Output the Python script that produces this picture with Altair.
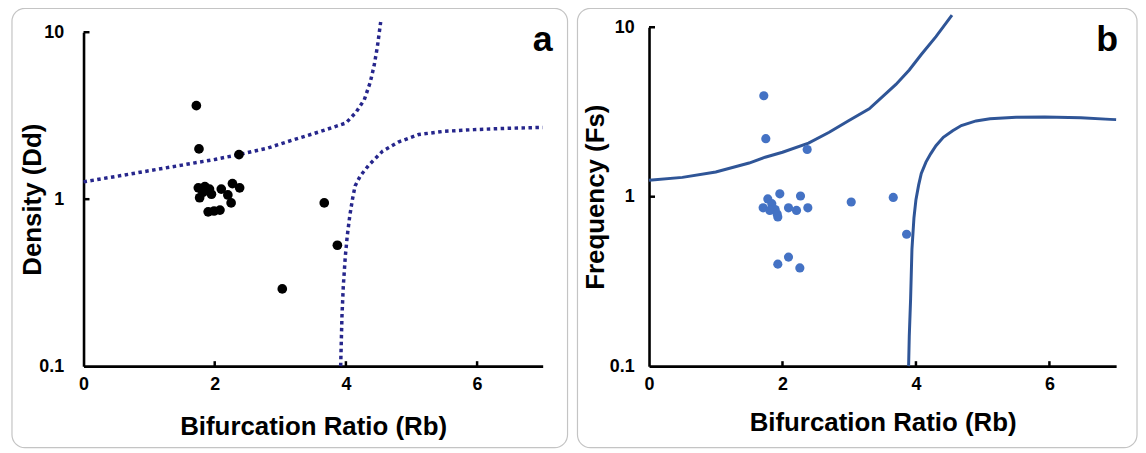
import altair as alt
import pandas as pd

# ---------------- Panel a : Density vs Bifurcation ratio ----------------
a_rb = [1.72, 1.76, 2.37, 1.75, 1.85, 1.92, 1.82, 1.77, 1.95, 2.10, 2.20, 2.27, 2.38, 2.25, 1.90, 2.08, 1.99, 3.67, 3.87, 3.03]
a_dd = [3.63, 2.00, 1.85, 1.17, 1.19, 1.15, 1.10, 1.02, 1.07, 1.15, 1.06, 1.24, 1.17, 0.95, 0.84, 0.86, 0.85, 0.95, 0.53, 0.29]

a_up_x = [0.0, 0.5, 1.0, 1.5, 2.0, 2.37, 2.8, 3.17, 3.62, 4.0, 4.15, 4.28, 4.37, 4.43, 4.48, 4.53]
a_up_y = [1.27, 1.37, 1.48, 1.60, 1.73, 1.85, 2.02, 2.25, 2.55, 2.86, 3.3, 3.94, 5.0, 6.3, 8.2, 11.5]
a_lo_x = [3.92, 3.94, 3.96, 3.99, 4.02, 4.06, 4.10, 4.14, 4.22, 4.35, 4.56, 4.8, 5.11, 5.5, 5.95, 6.5, 7.0]
a_lo_y = [0.1, 0.2, 0.3, 0.45, 0.6, 0.8, 1.0, 1.2, 1.38, 1.6, 1.94, 2.2, 2.44, 2.55, 2.61, 2.66, 2.69]

# ---------------- Panel b : Frequency vs Bifurcation ratio ----------------
b_rb = [1.72, 1.75, 2.37, 1.96, 2.27, 1.78, 1.84, 1.71, 1.89, 1.81, 1.93, 1.92, 2.09, 2.21, 2.38, 3.03, 3.66, 3.86, 1.93, 2.09, 2.26]
b_fs = [3.94, 2.20, 1.90, 1.04, 1.01, 0.97, 0.91, 0.86, 0.84, 0.83, 0.76, 0.79, 0.86, 0.83, 0.86, 0.93, 0.99, 0.60, 0.40, 0.44, 0.38]

b_up_x = [0.0, 0.5, 1.0, 1.5, 1.74, 2.0, 2.39, 2.7, 2.99, 3.3, 3.7, 3.9, 4.08, 4.3, 4.54]
b_up_y = [1.25, 1.30, 1.40, 1.58, 1.71, 1.83, 2.07, 2.4, 2.81, 3.3, 4.6, 5.6, 6.9, 8.8, 11.8]
b_lo_x = [3.89, 3.90, 3.92, 3.94, 3.97, 4.0, 4.04, 4.08, 4.15, 4.22, 4.3, 4.41, 4.55, 4.68, 4.9, 5.11, 5.5, 5.93, 6.47, 6.91, 7.0]
b_lo_y = [0.1, 0.15, 0.25, 0.49, 0.75, 0.96, 1.17, 1.37, 1.6, 1.79, 2.0, 2.24, 2.45, 2.63, 2.8, 2.88, 2.94, 2.95, 2.92, 2.86, 2.85]

x_labels = [0, 2, 4, 6]
y_labels = [0.1, 1, 10]
x_minor_ticks = [2, 4, 6]
y_minor_ticks = [1, 10]

FONT = "Liberation Sans"
H = 341  # common plot height (both panels share the same bottom line)


def panel(px, py, upx, upy, lox, loy, W, ytop, ytitle, letter, pcolor, psize,
          lcolor, lwidth, dash, ylabpad, ytitlex, xtitley, letter_dx, box):
    pts = pd.DataFrame({"x": px, "y": py})
    curves = pd.DataFrame({
        "x": upx + lox,
        "y": upy + loy,
        "curve": ["upper"] * len(upx) + ["lower"] * len(lox),
        "order": list(range(len(upx))) + list(range(len(lox))),
    })
    xs = alt.Scale(domain=[0, 7], nice=False, zero=False)
    ys = alt.Scale(type="log", domain=[0.1, 10], nice=False, range=[H, ytop])

    main_x = alt.Axis(values=x_labels, ticks=False, grid=False, title="Bifurcation Ratio (Rb)",
                      labelPadding=10, titleY=xtitley, titleBaseline="middle",
                      orient="bottom", labelFlush=False, labelFontSize=18,
                      labelFontWeight="bold", titleFontSize=26, titleFontWeight="bold")
    main_y = alt.Axis(values=y_labels, ticks=False, grid=False, title=ytitle, format="~g",
                      labelPadding=ylabpad, titleX=ytitlex, titleBaseline="middle",
                      orient="left", labelBaseline="middle", labelFontSize=18,
                      labelFontWeight="bold", titleFontSize=26, titleFontWeight="bold")

    frame = alt.Chart(pd.DataFrame({"k": [0]})).mark_rect(
        filled=False, stroke="#c4c4c4", strokeWidth=1.2, cornerRadius=13
    ).encode(x=alt.value(box[0]), x2=alt.value(W + box[1]),
             y=alt.value(box[2]), y2=alt.value(H + box[3]))

    dots = alt.Chart(pts).mark_circle(size=psize, color=pcolor, opacity=1).encode(
        x=alt.X("x:Q", scale=xs, axis=main_x),
        y=alt.Y("y:Q", scale=ys, axis=main_y),
    )

    line_kw = dict(color=lcolor, strokeWidth=lwidth, clip=False, strokeCap="butt")
    if dash:
        line_kw["strokeDash"] = dash
    lines = alt.Chart(curves).mark_line(**line_kw).encode(
        x=alt.X("x:Q", scale=xs, axis=main_x),
        y=alt.Y("y:Q", scale=ys, axis=main_y),
        detail="curve:N",
        order="order:Q",
    )

    xt = alt.Chart(pd.DataFrame({"v": x_minor_ticks})).mark_rule(
        color="black", strokeWidth=2.5
    ).encode(x=alt.X("v:Q", scale=xs, axis=main_x), y=alt.value(H), y2=alt.value(H - 5))
    yt = alt.Chart(pd.DataFrame({"v": y_minor_ticks})).mark_rule(
        color="black", strokeWidth=2.5
    ).encode(y=alt.Y("v:Q", scale=ys, axis=main_y), x=alt.value(0), x2=alt.value(6))

    return alt.layer(frame, lines, dots, xt, yt).properties(
        width=W, height=H,
        title=alt.TitleParams(letter, anchor="end", frame="group", fontSize=36, font=FONT,
                              fontWeight="bold", color="black", dy=51, dx=letter_dx, offset=0),
    )


pa = panel(a_rb, a_dd, a_up_x, a_up_y, a_lo_x, a_lo_y, 462, 5, "Density (Dd)", "a",
           "black", 95, "#26268c", 3.5, [3.5, 3.5], 20, -51, 61, 10, (-72, 25, -19, 82))
pb = panel(b_rb, b_fs, b_up_x, b_up_y, b_lo_x, b_lo_y, 470, 0, "Frequency (Fs)", "b",
           "#4472c4", 85, "#2f5597", 3, None, 15, -54, 57, 2, (-72, 21, -19, 82))

chart = alt.hconcat(pa, pb, spacing=8).properties(
    padding={"left": 3, "top": -2, "right": 0, "bottom": 0}
).configure_view(stroke=None).configure_axis(
    domainColor="black", domainWidth=2.6, labelColor="black", titleColor="black",
    labelFont=FONT, titleFont=FONT,
).configure_title(font=FONT)

chart.save("out.html", embed_options={"renderer": "svg", "actions": False})
